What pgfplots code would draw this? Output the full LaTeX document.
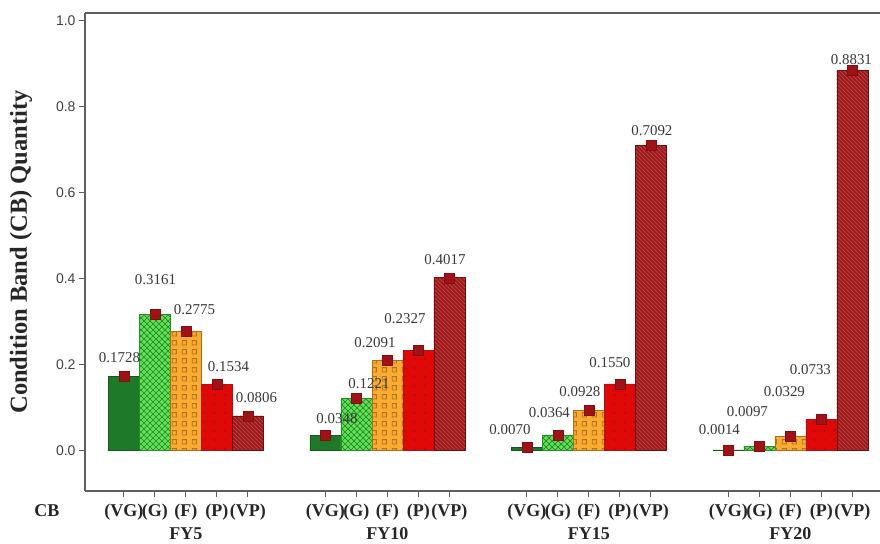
\documentclass[border=0pt]{standalone}
\usepackage{graphicx}
\usepackage{pgfplots}
\pgfplotsset{compat=1.18}
\usepackage{pgfplotstable}
\usetikzlibrary{patterns}
\usepackage{fontspec}
\setmainfont{Liberation Serif}
\newfontfamily\tickfont{Liberation Sans}

\definecolor{vgcol}{RGB}{30,122,40}
\definecolor{vgdraw}{RGB}{20,90,30}
\definecolor{gcol}{RGB}{100,222,88}
\definecolor{gpat}{RGB}{30,140,35}
\definecolor{gdraw}{RGB}{40,140,40}
\definecolor{fcol}{RGB}{250,172,48}
\definecolor{fpat}{RGB}{180,112,30}
\definecolor{fdraw}{RGB}{170,110,30}
\definecolor{pcol}{RGB}{225,8,8}
\definecolor{ppat}{RGB}{165,20,20}
\definecolor{pdraw}{RGB}{170,20,20}
\definecolor{vpcol}{RGB}{150,24,24}
\definecolor{vppat}{RGB}{190,60,60}
\definecolor{vpdraw}{RGB}{110,15,15}
\definecolor{markcol}{RGB}{160,18,22}
\definecolor{axgray}{RGB}{95,95,95}

\pgfdeclarepatternformonly{gcross}{\pgfqpoint{-0.5pt}{-0.5pt}}{\pgfqpoint{6.5pt}{6.5pt}}{\pgfqpoint{6pt}{6pt}}{%
  \pgfsetlinewidth{0.7pt}%
  \pgfpathmoveto{\pgfqpoint{0pt}{0pt}}\pgfpathlineto{\pgfqpoint{6pt}{6pt}}%
  \pgfpathmoveto{\pgfqpoint{0pt}{6pt}}\pgfpathlineto{\pgfqpoint{6pt}{0pt}}%
  \pgfusepath{stroke}}
\pgfdeclarepatternformonly{fsquares}{\pgfqpoint{0pt}{0pt}}{\pgfqpoint{10pt}{8.8pt}}{\pgfqpoint{10pt}{8.8pt}}{%
  \pgfsetlinewidth{0.9pt}%
  \pgfpathrectangle{\pgfqpoint{2.5pt}{2pt}}{\pgfqpoint{4.5pt}{4.5pt}}%
  \pgfusepath{stroke}}
\pgfdeclarepatternformonly{pdots}{\pgfqpoint{0pt}{0pt}}{\pgfqpoint{10pt}{9pt}}{\pgfqpoint{10pt}{9pt}}{%
  \pgfpathcircle{\pgfqpoint{5pt}{4.5pt}}{1.3pt}%
  \pgfusepath{fill}}
\pgfdeclarepatternformonly{vplines}{\pgfqpoint{-1pt}{-1pt}}{\pgfqpoint{5pt}{5pt}}{\pgfqpoint{4pt}{4pt}}{%
  \pgfsetlinewidth{0.9pt}%
  \pgfpathmoveto{\pgfqpoint{-1pt}{5pt}}\pgfpathlineto{\pgfqpoint{5pt}{-1pt}}%
  \pgfusepath{stroke}}

\newcommand{\vlab}[1]{\resizebox{41pt}{10pt}{\fontsize{14.5}{16}\selectfont #1}}
% value label: x, y, xshift, yshift
\newcommand{\vl}[4]{\node[anchor=south, inner sep=0pt, text=black!78] at (axis cs:#1,#2) [xshift=#3pt, yshift=#4pt] {\vlab{#2}};}

\pgfplotstableread{
x y
0 0.1728
1 0.3161
2 0.2775
3 0.1534
4 0.0806
6.5 0.0348
7.5 0.1221
8.5 0.2091
9.5 0.2327
10.5 0.4017
13 0.0070
14 0.0364
15 0.0928
16 0.1550
17 0.7092
19.5 0.0014
20.5 0.0097
21.5 0.0329
22.5 0.0733
23.5 0.8831
}\marktable

\begin{document}
\begin{tikzpicture}
\begin{axis}[
  width=795pt, height=478pt, scale only axis,
  xmin=-1.258, xmax=24.39, ymin=-0.094, ymax=1.017,
  axis lines=left, axis line style={-, axgray, line width=1.1pt},
  tick align=outside, major tick length=6pt,
  tick style={axgray, line width=1pt},
  ytick={0,0.2,0.4,0.6,0.8,1.0},
  /pgf/number format/assume math mode=true,
  yticklabel style={/pgf/number format/fixed, /pgf/number format/fixed zerofill,
    /pgf/number format/precision=1, font=\fontsize{14}{16}\selectfont\tickfont, text=black!75},
  xtick={0,1,2,3,4,6.5,7.5,8.5,9.5,10.5,13,14,15,16,17,19.5,20.5,21.5,22.5,23.5},
  xticklabels={(VG),(G),(F),(P),(VP),(VG),(G),(F),(P),(VP),(VG),(G),(F),(P),(VP),(VG),(G),(F),(P),(VP)},
  xticklabel style={font=\fontsize{18}{20}\selectfont\bfseries, text=black!85, inner sep=1pt, yshift=-6pt},
  clip=false,
]
\addplot[ybar, bar width=1, bar shift=0pt, fill=vgcol, draw=vgdraw, line width=0.6pt]
  coordinates {(0,0.1728) (6.5,0.0348) (13,0.0070) (19.5,0.0014)};
\addplot[ybar, bar width=1, bar shift=0pt, fill=gcol, draw=gdraw, line width=0.6pt,
  postaction={pattern=gcross, pattern color=gpat}]
  coordinates {(1,0.3161) (7.5,0.1221) (14,0.0364) (20.5,0.0097)};
\addplot[ybar, bar width=1, bar shift=0pt, fill=fcol, draw=fdraw, line width=0.6pt,
  postaction={pattern=fsquares, pattern color=fpat}]
  coordinates {(2,0.2775) (8.5,0.2091) (15,0.0928) (21.5,0.0329)};
\addplot[ybar, bar width=1, bar shift=0pt, fill=pcol, draw=pdraw, line width=0.6pt,
  postaction={pattern=pdots, pattern color=ppat}]
  coordinates {(3,0.1534) (9.5,0.2327) (16,0.1550) (22.5,0.0733)};
\addplot[ybar, bar width=1, bar shift=0pt, fill=vpcol, draw=vpdraw, line width=0.6pt,
  postaction={pattern=vplines, pattern color=vppat}]
  coordinates {(4,0.0806) (10.5,0.4017) (17,0.7092) (23.5,0.8831)};
\addplot[only marks, mark=square*, mark size=5pt,
  mark options={fill=markcol, draw=markcol!80!black, line width=0.4pt}]
  table[x=x, y=y] {\marktable};
\vl{0}{0.1728}{-4.5}{13}
\vl{1}{0.3161}{0.5}{30}
\vl{2}{0.2775}{8.5}{16}
\vl{3}{0.1534}{11.5}{12.5}
\vl{4}{0.0806}{8.5}{13}
\vl{6.5}{0.0348}{11.5}{12}
\vl{7.5}{0.1221}{12.5}{9}
\vl{8.5}{0.2091}{-12.5}{12.6}
\vl{9.5}{0.2327}{-13.5}{27}
\vl{10.5}{0.4017}{-4.5}{13}
\vl{13}{0.0070}{-17}{12.5}
\vl{14}{0.0364}{-8.5}{17}
\vl{15}{0.0928}{-9}{13.6}
\vl{16}{0.1550}{-10}{16}
\vl{17}{0.7092}{1}{10}
\vl{19.5}{0.0014}{-9}{15}
\vl{20.5}{0.0097}{-12}{29}
\vl{21.5}{0.0329}{-6}{39}
\vl{22.5}{0.0733}{-11}{44}
\vl{23.5}{0.8831}{-1}{6}
\node[font=\fontsize{18}{20}\selectfont\bfseries, text=black!85, anchor=base] at (axis cs:2,-0.094) [yshift=-48.5pt] {FY5};
\node[font=\fontsize{18}{20}\selectfont\bfseries, text=black!85, anchor=base] at (axis cs:8.5,-0.094) [yshift=-48.5pt] {FY10};
\node[font=\fontsize{18}{20}\selectfont\bfseries, text=black!85, anchor=base] at (axis cs:15,-0.094) [yshift=-48.5pt] {FY15};
\node[font=\fontsize{18}{20}\selectfont\bfseries, text=black!85, anchor=base] at (axis cs:21.5,-0.094) [yshift=-48.5pt] {FY20};
\node[font=\fontsize{18}{20}\selectfont\bfseries, text=black!85, anchor=base] at (rel axis cs:0,0) [xshift=-38pt, yshift=-25pt] {CB};
\end{axis}
\draw[axgray, line width=1.1pt] (current axis.north west) -- (current axis.north east);
\node[rotate=90, font=\fontsize{24.5}{28}\selectfont\bfseries, text=black!85] at ([xshift=-64pt]current axis.west) {Condition Band (CB) Quantity};
\pgfresetboundingbox
\path[use as bounding box] ([xshift=-85pt,yshift=-52pt]current axis.south west) rectangle ([yshift=13pt]current axis.north east);
\end{tikzpicture}
\end{document}
